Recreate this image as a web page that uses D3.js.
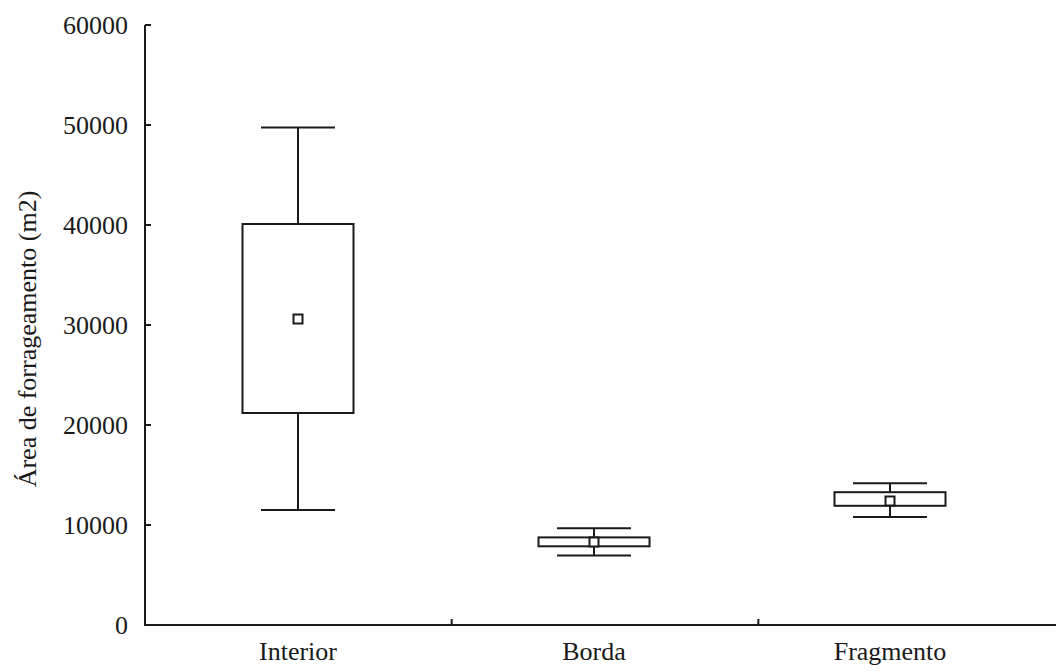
<!DOCTYPE html>
<html><head><meta charset="utf-8">
<script src="https://cdn.jsdelivr.net/npm/d3@7"></script>
<style>body{margin:0;background:#fff}svg{display:block}text{font-family:"Liberation Serif","Times New Roman",serif;fill:#1a1a1a}</style>
</head><body>
<svg id="c" width="1056" height="671"></svg>
<script>
const categories = ["Interior", "Borda", "Fragmento"];
const whiskerLow  = [11500, 6950, 10800];
const boxLow      = [21200, 7870, 11920];
const meanValues  = [30600, 8300, 12400];
const boxHigh     = [40100, 8760, 13280];
const whiskerHigh = [49750, 9680, 14170];
const yTicks = [0, 10000, 20000, 30000, 40000, 50000, 60000];
const yTitle = "Área de forrageamento (m2)";

const svg = d3.select("#c");
const ink = "#1a1a1a";
const y = d3.scaleLinear().domain([0, 60000]).range([625, 25]);
const band = d3.scaleBand().domain(categories).range([145, 1065]);
const x = d3.scalePoint().domain(categories).range([298, 890]);

// y axis
svg.append("line").attr("x1",145).attr("x2",145).attr("y1",y(60000)).attr("y2",y(0))
  .attr("stroke",ink).attr("stroke-width",2);
svg.selectAll(".yt").data(yTicks).enter().append("line")
  .attr("x1",145).attr("x2",151).attr("y1",d=>y(d)).attr("y2",d=>y(d))
  .attr("stroke",ink).attr("stroke-width",2);
svg.selectAll(".yl").data(yTicks).enter().append("text")
  .attr("x",128).attr("y",d=>y(d)).attr("dy","0.35em").attr("text-anchor","end")
  .attr("font-size",26).text(d=>d);
svg.append("text").attr("transform","translate(36,339) rotate(-90)")
  .attr("text-anchor","middle").attr("font-size",26).text(yTitle);

// x axis
svg.append("line").attr("x1",144).attr("x2",1070).attr("y1",y(0)).attr("y2",y(0))
  .attr("stroke",ink).attr("stroke-width",2);
svg.selectAll(".xt").data(categories.slice(1)).enter().append("line")
  .attr("x1",d=>band(d)).attr("x2",d=>band(d)).attr("y1",y(0)).attr("y2",y(0)-6)
  .attr("stroke",ink).attr("stroke-width",2);
svg.selectAll(".xl").data(categories).enter().append("text")
  .attr("x",d=>x(d)).attr("y",660).attr("text-anchor","middle")
  .attr("font-size",26).text(d=>d);

// boxes
const bw = 111, cw = 74, ms = 9;
const g = svg.selectAll(".box").data(categories).enter().append("g")
  .attr("fill","none").attr("stroke",ink).attr("stroke-width",2);
g.append("line").attr("x1",d=>x(d)).attr("x2",d=>x(d))
  .attr("y1",(d,i)=>y(whiskerHigh[i])).attr("y2",(d,i)=>y(boxHigh[i]));
g.append("line").attr("x1",d=>x(d)).attr("x2",d=>x(d))
  .attr("y1",(d,i)=>y(boxLow[i])).attr("y2",(d,i)=>y(whiskerLow[i]));
g.append("line").attr("x1",d=>x(d)-cw/2).attr("x2",d=>x(d)+cw/2)
  .attr("y1",(d,i)=>y(whiskerHigh[i])).attr("y2",(d,i)=>y(whiskerHigh[i]));
g.append("line").attr("x1",d=>x(d)-cw/2).attr("x2",d=>x(d)+cw/2)
  .attr("y1",(d,i)=>y(whiskerLow[i])).attr("y2",(d,i)=>y(whiskerLow[i]));
g.append("rect").attr("x",d=>x(d)-bw/2).attr("width",bw)
  .attr("y",(d,i)=>y(boxHigh[i])).attr("height",(d,i)=>y(boxLow[i])-y(boxHigh[i]))
  .attr("fill","#fff");
g.append("rect").attr("x",d=>x(d)-ms/2).attr("width",ms)
  .attr("y",(d,i)=>y(meanValues[i])-ms/2).attr("height",ms).attr("fill","#fff");
</script>
</body></html>
